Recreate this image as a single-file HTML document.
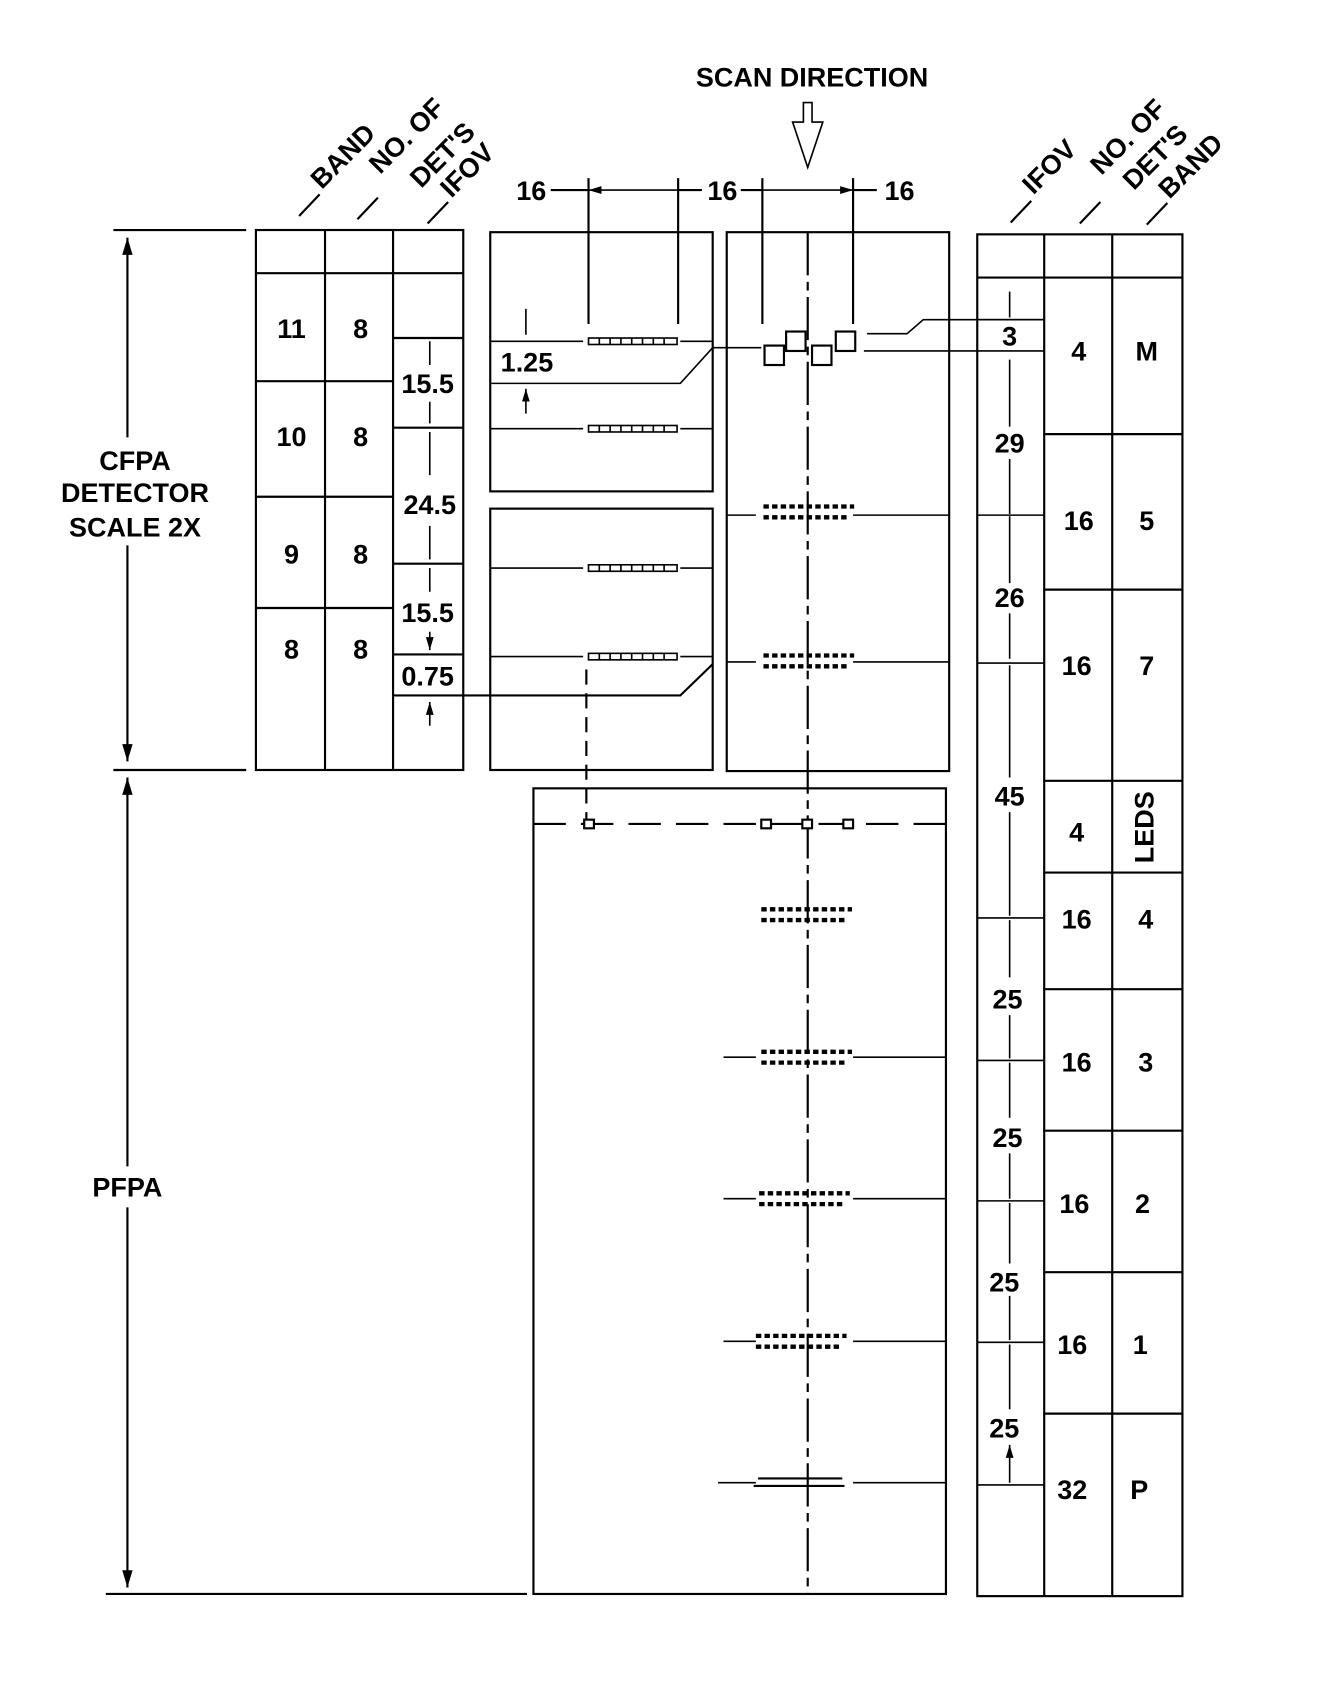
<!DOCTYPE html>
<html><head><meta charset="utf-8"><style>
html,body{margin:0;padding:0;background:#fff;}
svg{display:block}
text{font-family:"Liberation Sans",Arial,sans-serif;font-weight:bold;fill:#000;}
</style></head><body>
<svg width="1339" height="1689" viewBox="0 0 1240 1564" preserveAspectRatio="none" xmlns="http://www.w3.org/2000/svg">
<defs>
<marker id="a" viewBox="0 0 10 10" refX="10" refY="5" markerWidth="8" markerHeight="8" orient="auto-start-reverse"><path d="M0,2 L10,5 L0,8 z" fill="#000"/></marker>
<g id="dets"><rect x="0" y="-3" width="82" height="6" fill="none" stroke="#000" stroke-width="1.5"/><path d="M10,-3v6M20,-3v6M30,-3v6M40,-3v6M50,-3v6M60,-3v6M70,-3v6" stroke="#000" stroke-width="1.5"/></g>
<g id="two"><path d="M0,-5h84M0,5h80" stroke="#000" stroke-width="4" stroke-dasharray="5,3"/></g>
</defs>
<g stroke="#000" stroke-width="2" fill="none">
<!-- left dimension -->
<path d="M105,213H228M105,713H228M98,1476H488"/>
<path d="M118,220V405" marker-start="url(#a)"/>
<path d="M118,505V705" marker-end="url(#a)"/>
<path d="M118,720V1080" marker-start="url(#a)"/>
<path d="M118,1118V1470" marker-end="url(#a)"/>
<!-- left table -->
<rect x="237" y="213" width="192" height="500"/>
<path d="M301,213V713M364,213V713M237,253H429M237,353H364M237,460H364M237,563H364"/>
<path d="M364,313H429M364,396H429M364,522H429M364,606H429M364,644H630L660,615"/>
<g stroke-width="1.5"><path d="M398,338V316M398,372V392M398,440V400M398,487V518M398,526V548M398,585V602" marker-end="url(#a)"/><path d="M398,672V650" marker-end="url(#a)"/></g>
<!-- header lead lines -->
<path d="M277,200L296,180M331,203L350,183M396,207L415,187M936,206L955,186M1000,207L1019,187M1062,208L1081,188"/>
<!-- box 2 -->
<rect x="454" y="215" width="206" height="240"/>
<rect x="454" y="471" width="206" height="242"/>
<path d="M545,165V300M628,165V300M706,165V300M790,165V300"/>
<path d="M510,176H545M628,176H650M686,176H706M790,176H812"/>
<path d="M545,176H628M706,176H790" stroke-width="1.5" marker-start="url(#a)" marker-end="url(#a)"/>
<path d="M454,316H540M630,316H660M454,397H540M630,397H660M454,526H540M630,526H660M454,608H540M630,608H660" stroke-width="1.5"/>
<path d="M487,286V310M487,383V360" stroke-width="1.5" marker-end="url(#a)"/>
<path d="M455,355H630L660,322H705" stroke-width="1.5"/>
<path d="M543,620V760" stroke-dasharray="14,8"/>
<!-- box 3 -->
<rect x="673" y="215" width="206" height="499"/>
<path d="M748,215V1476" stroke-dasharray="40,6,8,6"/>
<path d="M673,477H700M790,477H879M673,613H700M790,613H879" stroke-width="1.5"/>
<path d="M803,309H840L855,296H967M800,325H905" stroke-width="1.5"/>
<!-- big box -->
<rect x="494" y="730" width="382" height="746"/>
<path d="M494,763H876" stroke-dasharray="30,14"/>
<path d="M670,979H700M790,979H876M670,1110H700M790,1110H876M670,1242H700M790,1242H876M665,1373H700M790,1373H876" stroke-width="1.5"/>
<!-- right table -->
<rect x="905" y="217" width="190" height="1261"/>
<path d="M967,217V1478M1030,217V1478"/>
<path d="M905,257H1095M967,402H1095M967,546H1095M967,723H1095M967,808H1095M967,916H1095M967,1047H1095M967,1178H1095M967,1309H1095"/>
<path d="M905,296H967M905,325H967M905,477H967M905,614H967M905,850H967M905,982H967M905,1112H967M905,1243H967M905,1375H967" stroke-width="1.5"/>
<g stroke-width="1.5">
<path d="M935,270V294M935,395V333M935,476V425M935,478V540M935,610V568M935,616V720M935,848V752M935,852V905M935,980V940M935,984V1035M935,1110V1068M935,1114V1170M935,1241V1200M935,1245V1305M935,1373V1338" marker-end="url(#a)"/>
</g>
<!-- scan arrow -->
<path d="M744,95V113H734L748,155L762,113H752V95Z" stroke-width="1.5"/>
</g>
<!-- detector squares -->
<g fill="#fff" stroke="#000" stroke-width="2">
<rect x="708" y="320" width="18" height="18"/><rect x="728" y="307" width="18" height="18"/><rect x="752" y="320" width="18" height="18"/><rect x="774" y="307" width="18" height="18"/>
<rect x="541" y="759" width="9" height="8"/><rect x="705" y="759" width="9" height="8"/><rect x="743" y="759" width="9" height="8"/><rect x="781" y="759" width="9" height="8"/>
</g>
<use href="#dets" x="545" y="316"/><use href="#dets" x="545" y="397"/><use href="#dets" x="545" y="526"/><use href="#dets" x="545" y="608"/>
<use href="#two" x="707" y="474"/><use href="#two" x="707" y="612"/><use href="#two" x="705" y="847"/><use href="#two" x="705" y="979"/><use href="#two" x="703" y="1110"/><use href="#two" x="700" y="1242"/>
<path d="M702,1369H780M698,1376H782" stroke="#000" stroke-width="2"/>
<!-- text -->
<g font-size="25" text-anchor="middle">
<text x="752" y="80">SCAN DIRECTION</text>
<text x="125" y="435">CFPA</text><text x="125" y="465">DETECTOR</text><text x="125" y="497">SCALE 2X</text>
<text x="118" y="1108">PFPA</text>
<text x="492" y="185">16</text><text x="669" y="185">16</text><text x="833" y="185">16</text>
<text x="270" y="313">11</text><text x="334" y="313">8</text>
<text x="270" y="413">10</text><text x="334" y="413">8</text>
<text x="270" y="522">9</text><text x="334" y="522">8</text>
<text x="270" y="610">8</text><text x="334" y="610">8</text>
<text x="396" y="364">15.5</text><text x="398" y="476">24.5</text><text x="396" y="576">15.5</text><text x="396" y="635">0.75</text>
<text x="488" y="344">1.25</text>
<text x="935" y="320">3</text><text x="935" y="419">29</text><text x="935" y="562">26</text><text x="935" y="746">45</text><text x="933" y="934">25</text><text x="933" y="1062">25</text><text x="930" y="1196">25</text><text x="930" y="1331">25</text>
<text x="999" y="334">4</text><text x="999" y="491">16</text><text x="997" y="625">16</text><text x="997" y="779">4</text><text x="997" y="860">16</text><text x="997" y="992">16</text><text x="995" y="1123">16</text><text x="993" y="1254">16</text><text x="993" y="1388">32</text>
<text x="1062" y="334">M</text><text x="1062" y="491">5</text><text x="1062" y="625">7</text><text x="1061" y="860">4</text><text x="1061" y="992">3</text><text x="1058" y="1123">2</text><text x="1056" y="1254">1</text><text x="1055" y="1388">P</text>
<text transform="translate(1068,766) rotate(-90)">LEDS</text>
</g>
<g font-size="25">
<text transform="translate(298,176) rotate(-45)">BAND</text>
<text transform="translate(352,162) rotate(-45)">NO. OF</text>
<text transform="translate(390,175) rotate(-45)">DET'S</text>
<text transform="translate(418,184) rotate(-45)">IFOV</text>
<text transform="translate(957,181) rotate(-45)">IFOV</text>
<text transform="translate(1020,163) rotate(-45)">NO. OF</text>
<text transform="translate(1050,177) rotate(-45)">DET'S</text>
<text transform="translate(1083,185) rotate(-45)">BAND</text>
</g>
</svg>
</body></html>
